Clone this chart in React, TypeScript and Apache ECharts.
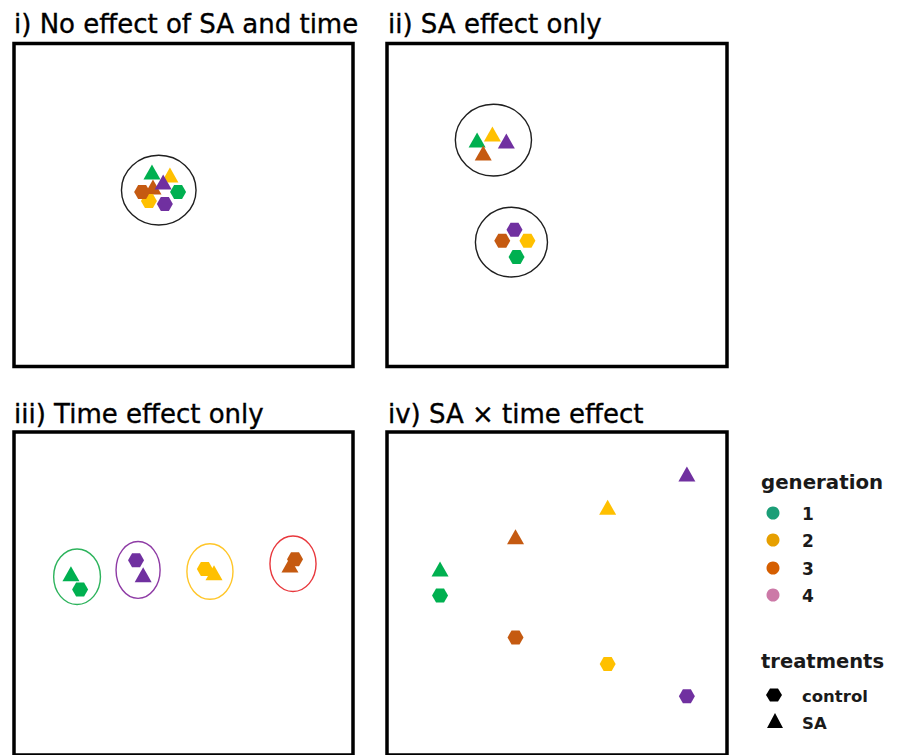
import React, { useEffect, useRef } from 'react';
import * as echarts from 'echarts';

// ---------- data ----------
const generations = ['1', '2', '3', '4'];
const treatments = ['control', 'SA'];
const markerColors = ['#00B050', '#FFC000', '#C55A11', '#7030A0'];
const legendColors = ['#1B9E77', '#E69F00', '#D55E00', '#CC79A7'];
const panelTitles = ['i) No effect of SA and time', 'ii) SA effect only', 'iii) Time effect only', 'iv) SA × time effect'];

// ordination scores (x, y) for generations 1..4
const p1Control = [[48.4, 54.0], [39.8, 51.2], [37.8, 54.0], [44.5, 50.3]];
const p1SA = [[40.7, 60.2], [46.0, 59.3], [41.0, 55.6], [44.0, 57.1]];
const p2Control = [[38.1, 33.9], [41.3, 38.9], [33.9, 38.9], [37.5, 42.3]];
const p2SA = [[26.5, 70.1], [31.0, 72.0], [28.3, 66.1], [35.1, 69.8]];
const p3Control = [[19.5, 51.2], [56.3, 57.6], [82.9, 60.6], [36.0, 60.3]];
const p3SA = [[16.8, 56.1], [59.0, 56.4], [81.4, 58.8], [38.1, 55.8]];
const p4Control = [[15.6, 49.4], [64.9, 28.2], [37.8, 36.4], [88.2, 18.2]];
const p4SA = [[15.6, 57.6], [64.9, 76.7], [37.8, 67.6], [88.2, 87.0]];

// ellipses: [cx, cy, rx, ry] in data units
const p1Ellipses = [[42.7, 54.6, 11.0, 10.8]];
const p2Ellipses = [[31.3, 70.1, 11.2, 11.1], [36.6, 38.5, 10.6, 10.8]];
const p3Ellipses = [[18.6, 55.2, 6.9, 8.6], [36.6, 57.3, 6.5, 8.8], [57.8, 56.8, 6.8, 8.6], [82.3, 59.2, 6.8, 8.6]];
const p3EllipseColors = ['#2DB35C', '#8E3BA5', '#FFC629', '#E8383D'];

const HEX = 'path://M0,8.66 L5,0 L15,0 L20,8.66 L15,17.32 L5,17.32 Z';
const TITLE_FONT = '"DejaVu Sans", sans-serif';

function ellipseSeries(idx: number, data: number[][], colors: string[]) {
  return {
    type: 'custom',
    xAxisIndex: idx,
    yAxisIndex: idx,
    silent: true,
    z: 1,
    data: data,
    renderItem: (params: any, api: any) => {
      const c = api.coord([api.value(0), api.value(1)]);
      const s = api.size([api.value(2), api.value(3)]);
      const rx = s[0];
      const ry = s[1];
      const d = `M${c[0] - rx},${c[1]} A${rx},${ry} 0 1 0 ${c[0] + rx},${c[1]} A${rx},${ry} 0 1 0 ${c[0] - rx},${c[1]} Z`;
      return {
        type: 'path',
        shape: { pathData: d },
        style: { fill: 'none', stroke: colors[params.dataIndex % colors.length], lineWidth: 1.4 },
      };
    },
  };
}

function pointSeries(idx: number, data: number[][], symbol: string, size: number[], name: string) {
  return {
    type: 'scatter',
    name,
    xAxisIndex: idx,
    yAxisIndex: idx,
    symbol,
    symbolSize: size,
    symbolKeepAspect: false,
    z: 3,
    data: data.map((v, i) => ({ value: v, name: generations[i], itemStyle: { color: markerColors[i], opacity: 1 } })),
  };
}

export default function App() {
  const ref = useRef<HTMLDivElement>(null);
  useEffect(() => {
    if (!ref.current) return;
    const chart = echarts.init(ref.current, undefined, { renderer: 'svg' });
    const grids = [
      { left: 14, top: 43.5, width: 339, height: 323 },
      { left: 387, top: 43.5, width: 340, height: 323 },
      { left: 14, top: 432, width: 339, height: 330 },
      { left: 387, top: 432, width: 340, height: 330 },
    ].map((g) => ({ ...g, show: true, borderColor: '#000', borderWidth: 3.5, backgroundColor: 'transparent' }));
    const axis = (i: number) => ({ type: 'value', gridIndex: i, min: 0, max: 100, show: false });

    const titleText = (text: string, x: number, y: number) => ({
      type: 'text',
      x,
      y,
      style: {
        text,
        fill: '#000',
        stroke: '#000',
        lineWidth: 0.35,
        font: `26px ${TITLE_FONT}`,
        verticalAlign: 'middle',
        align: 'left',
      },
    });
    const legText = (text: string, x: number, y: number, size: number) => ({
      type: 'text',
      x,
      y,
      style: { text, fill: '#1a1a1a', font: `bold ${size}px "DejaVu Sans", sans-serif`, verticalAlign: 'middle', align: 'left' },
    });
    const genRows = [513, 540, 568, 595];
    const legendGraphics: any[] = [
      legText('generation', 761, 482, 19.8),
      ...generations.flatMap((g, i) => [
        { type: 'circle', shape: { cx: 773, cy: genRows[i], r: 6.5 }, style: { fill: legendColors[i] } },
        legText(g, 802, genRows[i] + 1, 17),
      ]),
      legText('treatments', 761, 661, 19.5),
      {
        type: 'polygon',
        shape: { points: [[766, 695], [770, 688.5], [778, 688.5], [782, 695], [778, 701.5], [770, 701.5]] },
        style: { fill: '#000' },
      },
      legText(treatments[0], 802, 696, 16.5),
      { type: 'polygon', shape: { points: [[775, 713], [783, 728], [767, 728]] }, style: { fill: '#000' } },
      legText(treatments[1], 802, 723, 16.5),
    ];

    chart.setOption({
      animation: false,
      backgroundColor: '#fff',
      grid: grids,
      xAxis: [0, 1, 2, 3].map(axis),
      yAxis: [0, 1, 2, 3].map(axis),
      series: [
        ellipseSeries(0, p1Ellipses, ['#1f1f1f']),
        pointSeries(0, p1SA, 'triangle', [17, 15], 'SA'),
        pointSeries(0, p1Control, HEX, [16, 14], 'control'),
        ellipseSeries(1, p2Ellipses, ['#1f1f1f']),
        pointSeries(1, p2SA, 'triangle', [17, 15], 'SA'),
        pointSeries(1, p2Control, HEX, [16, 14], 'control'),
        ellipseSeries(2, p3Ellipses, p3EllipseColors),
        pointSeries(2, p3SA, 'triangle', [17, 15], 'SA'),
        pointSeries(2, p3Control, HEX, [16, 14], 'control'),
        pointSeries(3, p4SA, 'triangle', [17, 15], 'SA'),
        pointSeries(3, p4Control, HEX, [16, 14], 'control'),
      ],
      graphic: [
        titleText(panelTitles[0], 14, 23.5),
        titleText(panelTitles[1], 388, 23.5),
        titleText(panelTitles[2], 14, 413.5),
        titleText(panelTitles[3], 388, 413.5),
        ...legendGraphics,
      ],
    });
    return () => chart.dispose();
  }, []);
  return <div ref={ref} style={{ position: 'absolute', left: 0, top: 0, width: 898, height: 755 }} />;
}
